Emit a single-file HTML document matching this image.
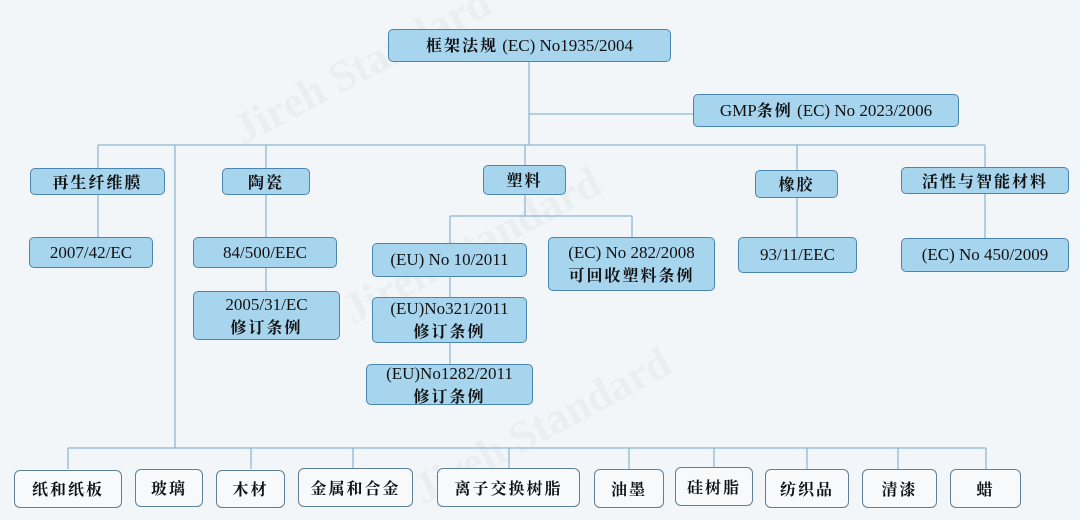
<!DOCTYPE html>
<html><head><meta charset="utf-8"><style>
body{margin:0;width:1080px;height:520px;background:#f3f6f8;position:relative;overflow:hidden;font-family:"Liberation Serif","Noto Serif CJK SC","Noto Sans CJK SC",serif;}
.b{position:absolute;box-sizing:border-box;background:#a8d5ee;border:1.5px solid #4a86b0;border-radius:5px;display:flex;flex-direction:column;align-items:center;justify-content:center;text-align:center;font-size:17px;line-height:22px;color:#111;white-space:nowrap}
.c{font-family:"Noto Serif CJK SC","Noto Sans CJK SC",serif;font-weight:bold;letter-spacing:2px;font-size:16px}
.w{background:#f7f9fb;border:1.5px solid #5d7f98;border-radius:6px;}
svg{position:absolute;left:0;top:0}
.wm{position:absolute;color:rgba(120,140,160,0.07);font-size:44px;font-weight:bold;transform:rotate(-28deg);white-space:nowrap}
</style></head><body>
<div class="wm" style="left:220px;top:40px">Jireh Standard</div>
<div class="wm" style="left:330px;top:220px">Jireh Standard</div>
<div class="wm" style="left:400px;top:400px">Jireh Standard</div>
<svg width="1080" height="520" stroke="#8fb8d4" stroke-width="1.3" fill="none">
<path d="M529 62V145M529 114H693M98 145H985M98 145V168M266 145V168M525 145V168M797 145V170M985 145V167"/>
<path d="M98 195V237M266 195V237M797 198V237M985 194V238M266 268V291"/>
<path d="M525 195V216M450 216H632M632 216V237M450 216V364"/>
<path d="M175 145V448M68 448H986M68 448V469M251 448V469M353 448V469M509 448V469M629 448V469M714 448V469M807 448V469M898 448V469M986 448V469"/>
</svg>
<div class="b" style="left:388px;top:29px;width:283px;height:33px"><div><span class="c">框架法规</span> (EC) No1935/2004</div></div>
<div class="b" style="left:693px;top:94px;width:266px;height:33px"><div>GMP<span class="c">条例</span> (EC) No 2023/2006</div></div>
<div class="b" style="left:30px;top:168px;width:135px;height:27px"><span class="c">再生纤维膜</span></div>
<div class="b" style="left:222px;top:168px;width:88px;height:27px"><span class="c">陶瓷</span></div>
<div class="b" style="left:483px;top:165px;width:83px;height:30px"><span class="c">塑料</span></div>
<div class="b" style="left:755px;top:170px;width:83px;height:28px"><span class="c">橡胶</span></div>
<div class="b" style="left:901px;top:167px;width:168px;height:27px"><span class="c">活性与智能材料</span></div>
<div class="b" style="left:29px;top:237px;width:124px;height:31px">2007/42/EC</div>
<div class="b" style="left:193px;top:237px;width:144px;height:31px">84/500/EEC</div>
<div class="b" style="left:193px;top:291px;width:147px;height:49px"><div>2005/31/EC</div><span class="c">修订条例</span></div>
<div class="b" style="left:372px;top:243px;width:155px;height:34px">(EU) No 10/2011</div>
<div class="b" style="left:548px;top:237px;width:167px;height:54px"><div>(EC) No 282/2008</div><span class="c">可回收塑料条例</span></div>
<div class="b" style="left:372px;top:297px;width:155px;height:46px"><div>(EU)No321/2011</div><span class="c">修订条例</span></div>
<div class="b" style="left:366px;top:364px;width:167px;height:41px"><div>(EU)No1282/2011</div><span class="c">修订条例</span></div>
<div class="b" style="left:738px;top:237px;width:119px;height:36px">93/11/EEC</div>
<div class="b" style="left:901px;top:238px;width:168px;height:34px">(EC) No 450/2009</div>
<div class="b w" style="left:14px;top:470px;width:108px;height:38px"><span class="c">纸和纸板</span></div>
<div class="b w" style="left:135px;top:469px;width:68px;height:38px"><span class="c">玻璃</span></div>
<div class="b w" style="left:216px;top:470px;width:69px;height:38px"><span class="c">木材</span></div>
<div class="b w" style="left:298px;top:468px;width:115px;height:39px"><span class="c">金属和合金</span></div>
<div class="b w" style="left:437px;top:468px;width:143px;height:39px"><span class="c">离子交换树脂</span></div>
<div class="b w" style="left:594px;top:469px;width:70px;height:39px"><span class="c">油墨</span></div>
<div class="b w" style="left:675px;top:467px;width:78px;height:39px"><span class="c">硅树脂</span></div>
<div class="b w" style="left:765px;top:469px;width:84px;height:39px"><span class="c">纺织品</span></div>
<div class="b w" style="left:862px;top:469px;width:75px;height:39px"><span class="c">清漆</span></div>
<div class="b w" style="left:950px;top:469px;width:71px;height:39px"><span class="c">蜡</span></div>
</body></html>
